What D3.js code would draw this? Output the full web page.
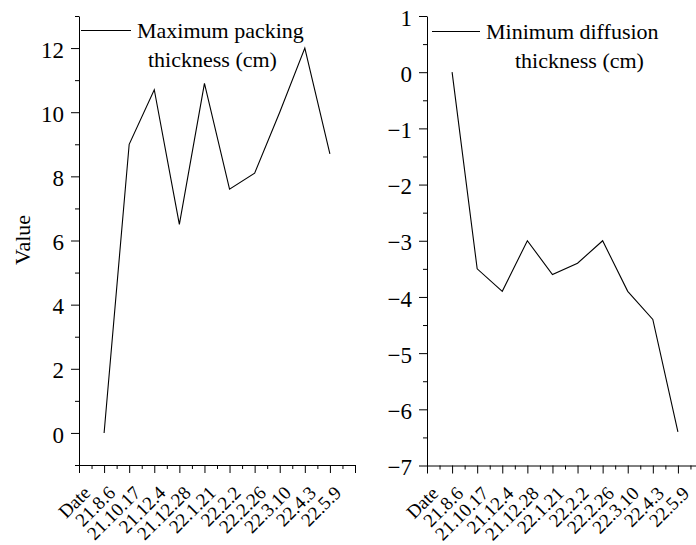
<!DOCTYPE html>
<html>
<head>
<meta charset="utf-8">
<script src="https://cdn.jsdelivr.net/npm/d3@7"></script>
<style>
  html, body { margin: 0; padding: 0; background: #fff; }
  svg { display: block; }
  svg text { font-family: "Liberation Serif", "Times New Roman", Times, "DejaVu Serif", serif !important; fill: #000; }
</style>
</head>
<body>
<svg id="chart" width="696" height="545"></svg>
<script>
// ---- data ----
const categories = ["Date","21.8.6","21.10.17","21.12.4","21.12.28","22.1.21","22.2.2","22.2.26","22.3.10","22.4.3","22.5.9"];
const maxPacking = [0, 9, 10.7, 6.5, 10.9, 7.6, 8.1, 10, 12, 8.7];
const minDiffusion = [0, -3.5, -3.9, -3.0, -3.6, -3.4, -3.0, -3.9, -4.4, -6.4];
const leftYTicks = [0, 2, 4, 6, 8, 10, 12];
const leftYMinor = [-1, 1, 3, 5, 7, 9, 11, 13];
const rightYTicks = [-7, -6, -5, -4, -3, -2, -1, 0, 1];
const rightYMinor = [-6.5, -5.5, -4.5, -3.5, -2.5, -1.5, -0.5, 0.5];
const leftLegend = ["Maximum packing", "thickness (cm)"];
const rightLegend = ["Minimum diffusion", "thickness (cm)"];

const FONT = '"Liberation Serif", "Times New Roman", Times, "DejaVu Serif", serif';
const svg = d3.select("#chart");

function panel(opt) {
  const g = svg.append("g");
  const x = d3.scaleLinear().domain([0, 11]).range([opt.x0, opt.x0 + 276]);
  const y = d3.scaleLinear().domain(opt.yDomain).range([opt.yBottom, opt.yTop]);

  const xMinor = d3.range(0, 11, 1).map(d => d + 0.5);
  g.append("g").attr("transform", `translate(0,${opt.yBottom})`)
    .call(d3.axisBottom(x).tickValues(xMinor).tickSize(4).tickSizeOuter(0).tickFormat(""))
    .call(s => s.select(".domain").remove());
  const xMajor = d3.range(0, 12);
  const xa = g.append("g").attr("transform", `translate(0,${opt.yBottom})`)
    .call(d3.axisBottom(x).tickValues(xMajor).tickSize(8).tickSizeOuter(0)
      .tickFormat(i => categories[i] || ""));
  xa.attr("font-family", FONT);
  xa.selectAll(".tick text")
    .attr("text-anchor", "end")
    .attr("dy", null).attr("y", null)
    .attr("transform", "translate(12,29) rotate(-45)")
    .attr("font-size", 19);

  g.append("g").attr("transform", `translate(${opt.x0},0)`)
    .call(d3.axisLeft(y).tickValues(opt.yMinor).tickSize(4).tickSizeOuter(0).tickFormat(""))
    .call(s => s.select(".domain").remove());
  const ya = g.append("g").attr("transform", `translate(${opt.x0},0)`)
    .call(d3.axisLeft(y).tickValues(opt.yTicks).tickSize(8).tickSizeOuter(0).tickPadding(7));
  ya.attr("font-family", FONT);
  ya.selectAll(".tick text")
    .attr("dy", "0.4em")
    .attr("font-size", 23);

  g.selectAll(".domain, .tick line").attr("stroke", "#000").attr("stroke-width", 1);

  const line = d3.line().x((d, i) => x(i + 1)).y(d => y(d));
  g.append("path").datum(opt.values)
    .attr("fill", "none").attr("stroke", "#000").attr("stroke-width", 1.1)
    .attr("d", line);

  g.append("line")
    .attr("x1", opt.legend.lx1).attr("x2", opt.legend.lx2)
    .attr("y1", opt.legend.ly).attr("y2", opt.legend.ly)
    .attr("stroke", "#000").attr("stroke-width", 1);
  opt.legend.lines.forEach((t, i) => {
    g.append("text")
      .attr("x", opt.legend.tx[i]).attr("y", opt.legend.ty[i])
      .attr("font-family", FONT)
      .attr("font-size", 22)
      .text(t);
  });
  return g;
}

panel({
  x0: 79, yTop: 16, yBottom: 465, yDomain: [-1, 13],
  yTicks: leftYTicks, yMinor: leftYMinor, values: maxPacking,
  legend: { lx1: 81, lx2: 131, ly: 30.5, lines: leftLegend, tx: [137, 148], ty: [38, 67] }
});
panel({
  x0: 427, yTop: 16, yBottom: 465.5, yDomain: [-7, 1],
  yTicks: rightYTicks, yMinor: rightYMinor, values: minDiffusion,
  legend: { lx1: 432, lx2: 480, ly: 31.5, lines: rightLegend, tx: [486, 515], ty: [39, 68] }
});

svg.append("text")
  .attr("transform", "translate(30,240) rotate(-90)")
  .attr("text-anchor", "middle")
  .attr("font-family", FONT)
  .attr("font-size", 22)
  .text("Value");
</script>
</body>
</html>
